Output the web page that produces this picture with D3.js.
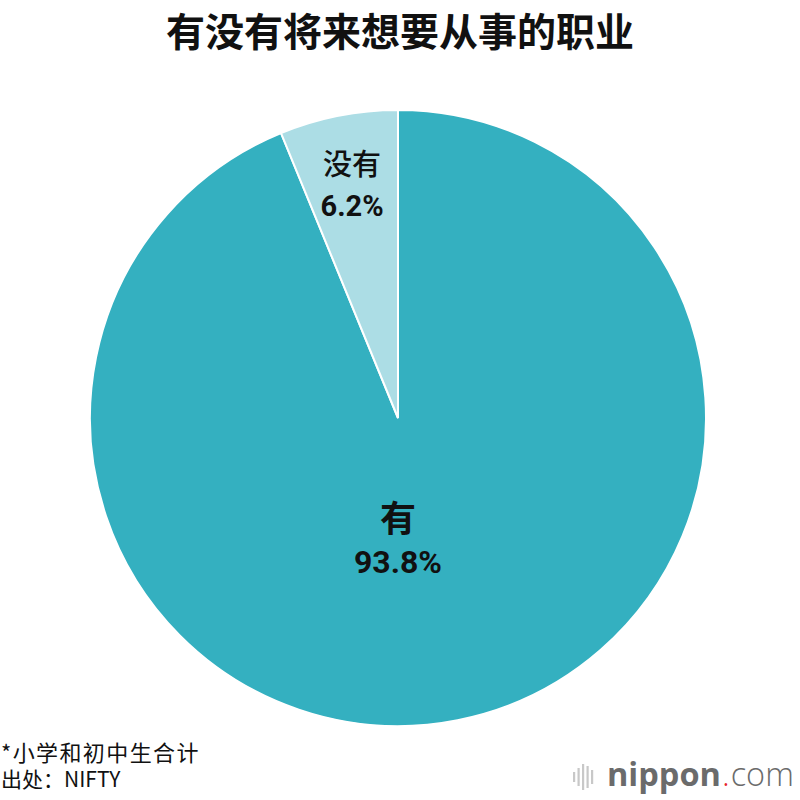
<!DOCTYPE html>
<html><head><meta charset="utf-8">
<script src="https://cdn.jsdelivr.net/npm/d3@7"></script>
<style>
body{margin:0;background:#fff;}
svg{display:block;}
</style></head>
<body>
<svg id="chart" width="800" height="800"></svg>
<script>
const title = "有没有将来想要从事的职业";
const categories = ["有", "没有"];
const values = [93.8, 6.2];
const valueLabels = ["93.8%", "6.2%"];
const colors = ["#34b0c0", "#acdde5"];
const notes = ["*小学和初中生合计", "出处：NIFTY"];

const svg = d3.select("#chart");
const cx = 398, cy = 418, R = 308;
const cjk = "'Noto Sans CJK SC','Noto Sans',sans-serif";
const num = "Roboto,'Liberation Sans',sans-serif";

svg.append("text").attr("x", 400).attr("y", 45.5).attr("text-anchor", "middle")
  .style("font-family", cjk).style("font-weight", 700).style("font-size", "39px")
  .attr("fill", "#111").text(title);

const pie = d3.pie().sort(null).value(d => d)(values);
const arc = d3.arc().innerRadius(0).outerRadius(R);
const g = svg.append("g").attr("transform", `translate(${cx},${cy})`);
g.selectAll("path").data(pie).join("path")
  .attr("d", arc).attr("fill", (d, i) => colors[i])
  .attr("stroke", "#fff").attr("stroke-width", 2);

const labelArc = d3.arc().innerRadius(R * 0.77).outerRadius(R * 0.77);
pie.forEach((d, i) => {
  let x, y1, y2, fs1, fs2, w1;
  if (i === 0) { x = 0; y1 = 114; y2 = 155; fs1 = 36; fs2 = 32; w1 = 700; }
  else { const c = labelArc.centroid(d); x = c[0]; y1 = c[1] - 10; y2 = c[1] + 31; fs1 = 29; fs2 = 29; w1 = 500; }
  g.append("text").attr("x", x).attr("y", y1)
    .attr("text-anchor", "middle").style("font-family", cjk).style("font-weight", w1)
    .style("font-size", fs1 + "px").attr("fill", "#111").text(categories[i]);
  g.append("text").attr("x", x).attr("y", y2)
    .attr("text-anchor", "middle").style("font-family", num).style("font-weight", 700)
    .style("font-size", fs2 + "px").attr("fill", "#111").text(valueLabels[i]);
});

const note = svg.append("text").attr("y", 761)
  .style("font-family", cjk).attr("fill", "#111");
note.selectAll("tspan").data(notes).join("tspan")
  .attr("x", 1).attr("dy", (d, i) => i === 0 ? 0 : 26)
  .style("font-size", (d, i) => i === 0 ? "22px" : "21px")
  .style("letter-spacing", (d, i) => i === 0 ? "1.4px" : "0px")
  .text(d => d);

// logo
const logo = svg.append("g");
const bars = [10, 18, 26, 22, 14];
logo.selectAll("rect").data(bars).join("rect")
  .attr("x", (d, i) => 573 + i * 4.5).attr("width", 2.2)
  .attr("y", d => 777 - d / 2).attr("height", d => d).attr("fill", "#c8c8c8");
const lt = logo.append("text").attr("x", 607).attr("y", 786)
  .style("font-family", "'Open Sans',sans-serif").style("font-size", "32.5px").attr("fill", "#6b6b6b");
lt.append("tspan").style("font-weight", 700).text("nippon");
lt.append("tspan").attr("fill", "#e8242a").style("font-weight", 300).attr("dx", 1).text(".");
lt.append("tspan").style("font-weight", 300).attr("dx", 1).text("com");
</script>
</body></html>
